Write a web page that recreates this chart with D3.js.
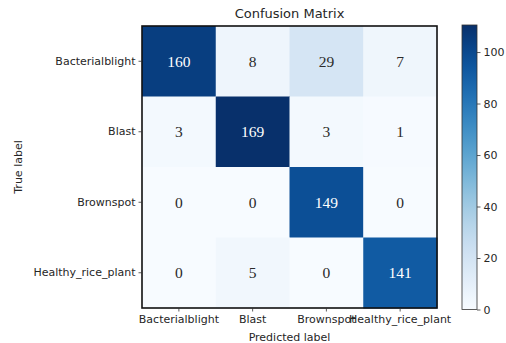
<!DOCTYPE html>
<html>
<head>
<meta charset="utf-8">
<script src="https://cdn.jsdelivr.net/npm/d3@7"></script>
<style>
  html, body { margin: 0; padding: 0; background: #fff; }
  svg { display: block; }
</style>
</head>
<body>
<svg id="chart" width="506" height="343"></svg>
<script>
// Class names (same order on both axes)
const classes = ["Bacterialblight", "Blast", "Brownspot", "Healthy_rice_plant"];
// Rows = true label, columns = predicted label
const row0 = [160, 8, 29, 7];
const row1 = [3, 169, 3, 1];
const row2 = [0, 0, 149, 0];
const row3 = [0, 5, 0, 141];
const matrix = [row0, row1, row2, row3];
// Colorbar ticks and its upper bound
const colorbarTicks = [0, 20, 40, 60, 80, 100];
const colorbarMax = 110.5;

const svg = d3.select("#chart");
const plot = { left: 142, top: 26, right: 437, bottom: 308 };

const x = d3.scaleBand().domain(classes).range([plot.left, plot.right]);
const y = d3.scaleBand().domain(classes).range([plot.top, plot.bottom]);

const maxVal = d3.max(matrix.flat());
const color = d3.scaleSequential(d3.interpolateBlues).domain([0, maxVal]);

const cells = [];
matrix.forEach((row, i) => row.forEach((v, j) => cells.push({ t: classes[i], p: classes[j], v })));

// Heatmap cells
svg.append("g").selectAll("rect").data(cells).join("rect")
  .attr("x", d => x(d.p))
  .attr("y", d => y(d.t))
  .attr("width", x.bandwidth() + 0.5)
  .attr("height", y.bandwidth() + 0.5)
  .attr("fill", d => color(d.v));

// Cell counts
const thresh = maxVal / 2;
svg.append("g").selectAll("text").data(cells).join("text")
  .attr("x", d => x(d.p) + x.bandwidth() / 2)
  .attr("y", d => y(d.t) + y.bandwidth() / 2)
  .attr("dy", "0.36em")
  .attr("text-anchor", "middle")
  .attr("font-family", "'Liberation Serif', 'DejaVu Serif', serif")
  .attr("font-size", 15.5)
  .attr("fill", d => d.v > thresh ? "#ffffff" : "#2a2a2a")
  .text(d => d.v);

// Frame
svg.append("rect")
  .attr("x", plot.left).attr("y", plot.top)
  .attr("width", plot.right - plot.left).attr("height", plot.bottom - plot.top)
  .attr("fill", "none").attr("stroke", "#111").attr("stroke-width", 1.6);

const font = "'DejaVu Sans', sans-serif";

// Axes
const xAxis = svg.append("g")
  .attr("transform", `translate(0,${plot.bottom})`)
  .call(d3.axisBottom(x).tickSize(3.5).tickSizeOuter(0).tickPadding(4));
const yAxis = svg.append("g")
  .attr("transform", `translate(${plot.left},0)`)
  .call(d3.axisLeft(y).tickSize(3.5).tickSizeOuter(0).tickPadding(3));
[xAxis, yAxis].forEach(a => {
  a.select(".domain").remove();
  a.selectAll("line").attr("stroke", "#333").attr("stroke-width", 0.8);
  a.selectAll("text").attr("font-family", font).attr("font-size", 11).attr("fill", "#262626");
});

// Title and axis titles
svg.append("text")
  .attr("x", (plot.left + plot.right) / 2).attr("y", 18)
  .attr("text-anchor", "middle")
  .attr("font-family", font).attr("font-size", 13).attr("fill", "#262626")
  .text("Confusion Matrix");
svg.append("text")
  .attr("x", (plot.left + plot.right) / 2).attr("y", 341)
  .attr("text-anchor", "middle")
  .attr("font-family", font).attr("font-size", 11).attr("fill", "#262626")
  .text("Predicted label");
svg.append("text")
  .attr("transform", `translate(22,${(plot.top + plot.bottom) / 2}) rotate(-90)`)
  .attr("text-anchor", "middle")
  .attr("font-family", font).attr("font-size", 11).attr("fill", "#262626")
  .text("True label");

// Colorbar
const cb = { left: 462, right: 477, top: 25, bottom: 309.5 };
const cbScale = d3.scaleLinear().domain([0, colorbarMax]).range([cb.bottom, cb.top]);
const cbColor = d3.scaleSequential(d3.interpolateBlues).domain([0, colorbarMax]);
const defs = svg.append("defs");
const grad = defs.append("linearGradient")
  .attr("id", "cbgrad").attr("x1", 0).attr("y1", 1).attr("x2", 0).attr("y2", 0);
d3.range(0, 1.0001, 0.05).forEach(t => {
  grad.append("stop").attr("offset", t).attr("stop-color", cbColor(t * colorbarMax));
});
svg.append("rect")
  .attr("x", cb.left).attr("y", cb.top)
  .attr("width", cb.right - cb.left).attr("height", cb.bottom - cb.top)
  .attr("fill", "url(#cbgrad)")
  .attr("stroke", "#333").attr("stroke-width", 0.8);
const cbAxis = svg.append("g")
  .attr("transform", `translate(${cb.right},0)`)
  .call(d3.axisRight(cbScale).tickValues(colorbarTicks).tickSize(3.5).tickPadding(3));
cbAxis.select(".domain").remove();
cbAxis.selectAll("line").attr("stroke", "#333").attr("stroke-width", 0.8);
cbAxis.selectAll("text").attr("font-family", font).attr("font-size", 11).attr("fill", "#262626");
</script>
</body>
</html>
